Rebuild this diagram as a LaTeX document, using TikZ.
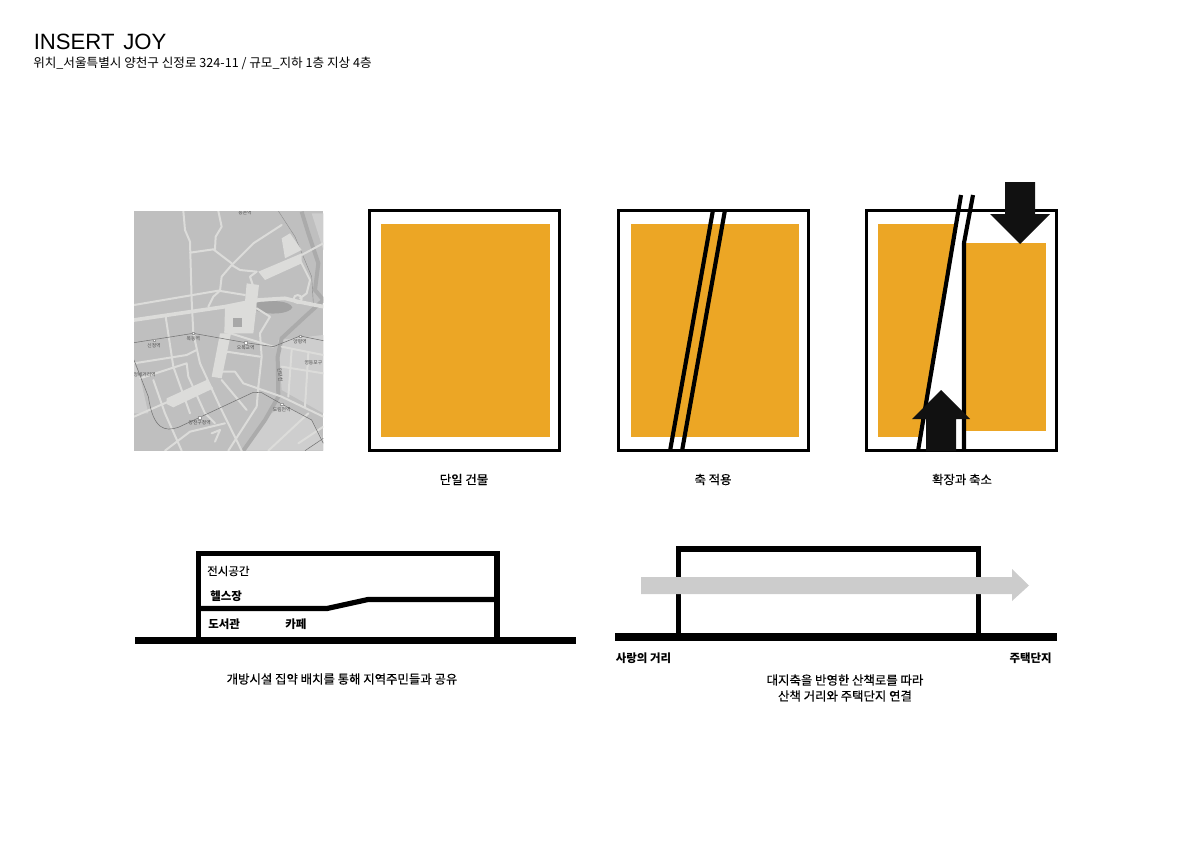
\documentclass[tikz,border=0pt]{standalone}
\usepackage{fontspec}
\setmainfont{Noto Sans CJK KR}
\newfontfamily\latinfont{Liberation Sans}
\newfontfamily\capfont[FakeBold=0.35]{Noto Sans CJK KR}
\usetikzlibrary{positioning}
\definecolor{massorange}{HTML}{ECA625}
\definecolor{mapbase}{HTML}{BFBFBF}
\definecolor{maproad}{HTML}{DCDCDA}
\definecolor{mapriver}{HTML}{ABABAB}
\definecolor{mapcity}{HTML}{CECECE}
\definecolor{walkway}{HTML}{CCCCCC}
\definecolor{arrowdark}{HTML}{111111}
\tikzset{
    x=0.75pt, y=-0.75pt,
    site/.style={draw=black, line width=2.6pt},
    mass/.style={fill=massorange},
    axisline/.style={draw=black, line width=3.1pt},
    section/.style={draw=black, line width=3.9pt, line join=miter},
    ground/.style={fill=black},
    caption/.style={font=\capfont\fontsize{9.3pt}{11.9pt}\selectfont, inner sep=0pt, align=center},
    room/.style={font=\fontsize{8.6pt}{11pt}\selectfont, inner sep=0pt, anchor=west},
    road/.style={draw=maproad, line width=1.5pt, line cap=round, line join=round},
    wideroad/.style={draw=maproad, line width=2.8pt, line cap=round, line join=round},
    rail/.style={draw=black!55, line width=0.4pt},
    station/.style={font=\fontsize{3.6pt}{4pt}\selectfont, text=black!70, inner sep=0pt},
    halt/.style={fill=white, draw=black!40, line width=0.2pt, inner sep=0pt, minimum size=1.6pt},
}
\begin{document}
\begin{tikzpicture}
    \useasboundingbox (0,0) rectangle (1192,842);

    % Title
    \node [anchor=base west, inner sep=0pt, font=\latinfont\fontsize{16.6pt}{20pt}\selectfont] (title) at (33.5,50) {INSERT\hspace{2pt} JOY};
    \node [anchor=base west, inner sep=0pt, font=\fontsize{9.45pt}{11pt}\selectfont] (subtitle) at (33,67.5) {위치\_서울특별시 양천구 신정로 324-11 / 규모\_지하 1층 지상 4층};

    % Map
    \begin{scope}[shift={(125,200)}, x=0.25pt, y=-0.25pt]
        \clip (27,33) rectangle (595,752);
        \fill [mapbase] (27,33) rectangle (595,752);
        % city blocks east of the river
        \fill [mapcity] (460,420) -- (595,405) -- (595,640) -- (470,570) -- cycle;
        \fill [mapcity] (360,752) -- (440,640) -- (480,615) -- (560,660) -- (595,720) -- (595,752) -- cycle;
        \fill [mapcity] (27,490) -- (45,530) -- (70,640) -- (27,640) -- cycle;
        \fill [mapcity] (560,40) -- (595,40) -- (595,150) -- cycle;
        % river
        \draw [mapriver, line width=3pt] (355,752) -- (420,660) -- (460,590) -- (458,470) -- (470,415) -- (540,350) -- (595,300);
        \draw [mapriver, line width=3pt] (530,35) -- (550,100) -- (580,190) -- (570,270) -- (595,300);
        \draw [black!45, line width=0.3pt] (460,33) -- (510,110) -- (560,230) -- (565,310);
        % wide blocks
        \fill [maproad] (400,215) -- (530,160) -- (530,190) -- (420,240) -- cycle;
        \fill [maproad] (470,115) -- (495,100) -- (530,150) -- (480,175) -- cycle;
        \fill [maproad] (365,250) -- (402,255) -- (385,400) -- (298,400) -- (300,320) -- (360,305) -- cycle;
        \fill [mapbase!88!black] (323,355) rectangle (350,380);
        \fill [maproad] (285,400) -- (318,400) -- (290,535) -- (260,530) -- cycle;
        \fill [maproad] (125,595) -- (245,540) -- (265,565) -- (145,622) -- (125,612) -- cycle;
        \fill [mapbase!85!black] (395,308) .. controls (440,298) and (495,303) .. (502,322) .. controls (495,342) and (430,347) .. (395,332) -- cycle;
        % main roads
        \draw [wideroad] (27,360) -- (300,320) -- (400,300) -- (480,295) -- (520,305) -- (595,320);
        \foreach \roadpath in {
            {(175,33) -- (180,90) -- (195,125) -- (200,300) -- (205,400) -- (225,490) -- (285,620) -- (350,752)},
            {(27,315) -- (280,272) -- (360,285)},
            {(285,272) -- (290,230) -- (320,195) -- (385,130) -- (470,75)},
            {(195,158) -- (265,148) -- (320,190)},
            {(280,33) -- (290,80) -- (272,110) -- (270,148)},
            {(250,320) -- (265,290) -- (285,272)},
            {(320,195) -- (345,210) -- (395,215)},
            {(385,260) -- (375,230) -- (395,215)},
            {(530,165) -- (595,130)},
            {(520,170) -- (555,240) -- (545,280) -- (525,295)},
            {(122,350) -- (145,500) -- (195,640)},
            {(27,490) -- (185,465) -- (215,450)},
            {(45,535) -- (185,490) -- (190,530) -- (240,640) -- (270,670)},
            {(85,540) -- (120,640) -- (170,752)},
            {(27,650) -- (130,605)},
            {(290,540) -- (365,630)},
            {(290,515) -- (330,515) -- (355,550) -- (470,590) -- (595,650)},
            {(400,560) -- (395,620) -- (310,752)},
            {(405,400) -- (435,350) -- (395,325)},
            {(405,400) -- (410,470) -- (400,560)},
            {(305,455) -- (405,470)},
            {(300,395) -- (445,440)},
            {(120,752) -- (195,695) -- (300,670)},
            {(260,700) -- (285,690) -- (270,725)},
            {(470,440) -- (595,465)},
            {(500,450) -- (490,590)},
            {(550,460) -- (540,620)},
            {(470,500) -- (595,520)},
            {(430,752) -- (550,640)},
            {(520,730) -- (595,680)}%
        }{
            \draw [road] \roadpath;
        }
        \draw [road] (518,297) circle (12);
        % subway lines
        \draw [rail] (27,428) -- (205,400) -- (362,428) -- (445,440) -- (525,408) -- (595,422);
        \draw [rail] (27,480) -- (70,590) .. controls (85,690) and (120,695) .. (160,682) -- (385,577) -- (410,578) -- (470,612) -- (560,660) -- (595,730);
        \draw [rail] (595,715) -- (540,752);
        % stations
        \node [halt] (hsinjeong) at (87,420) {};
        \node [halt] (hmokdong) at (205,400) {};
        \node [halt] (homok) at (362,428) {};
        \node [halt] (hyangpyeong) at (525,408) {};
        \node [halt] (hyangcheon) at (224,653) {};
        \node [halt] (hdorim) at (470,612) {};
        \node [station] (sdeung) at (360,37) {등촌역};
        \node [station] (ssinjeong) at (87,437) {신정역};
        \node [station] (smokdong) at (205,417) {목동역};
        \node [station] (somok) at (362,444) {오목교역};
        \node [station] (syangpyeong) at (525,425) {양평역};
        \node [station] (snegeori) at (52,525) {신정네거리역};
        \node [station] (syangcheon) at (224,669) {양천구청역};
        \node [station] (sdorim) at (470,629) {도림천역};
        \node [station] (sdist) at (565,488) {영등포구};
        \node [station, rotate=-85] (sriver) at (466,525) {안양천};
    \end{scope}

    % Single building
    \fill [mass] (381,224) rectangle (550,437);
    \draw [site] (369.5,210.5) rectangle (559.5,450.5);
    \node [caption] (capone) at (464,479.5) {단일 건물};

    % Axis applied
    \fill [mass] (631,224) rectangle (799,437);
    \draw [site] (618.5,210.5) rectangle (808.5,450.5);
    \draw [axisline] (713,210) -- (670,451);
    \draw [axisline] (725,210) -- (682,451);
    \node [caption] (captwo) at (713,479.5) {축 적용};

    % Expansion and reduction
    \fill [mass] (878,224) rectangle (960,437);
    \fill [mass] (966,243) rectangle (1046,431);
    \fill [white] (961,195) -- (973,195) -- (964,243) -- (964,450) -- (918,450) -- cycle;
    \draw [site] (866.5,210.5) rectangle (1056.5,450.5);
    \draw [axisline] (961,195) -- (918,451);
    \draw [axisline] (973,195) -- (964,243) -- (964,451);
    \fill [arrowdark] (926,451) -- (926,419) -- (912,419) -- (941,390) -- (970,419) -- (956,419) -- (956,451) -- cycle;
    \fill [arrowdark] (1005,182) -- (1035,182) -- (1035,214) -- (1050,214) -- (1020,244) -- (990,214) -- (1005,214) -- cycle;
    \node [caption] (capthree) at (962,479.5) {확장과 축소};

    % Section with shared facilities
    \draw [section] (198.5,637) -- (198.5,553.5) -- (497,553.5) -- (497,637);
    \draw [section] (198.5,608.5) -- (327,608.5) -- (368,599.5) -- (497,599.5);
    \fill [ground] (135,637) rectangle (576,644);
    \node [room] (gallery) at (207,571) {\capfont 전시공간};
    \node [room] (gym) at (210,596) {\bfseries 헬스장};
    \node [room] (library) at (208,624) {\bfseries 도서관};
    \node [room] (cafe) at (285,624) {\bfseries 카페};
    \node [caption] (capfour) at (342,679) {개방시설 집약 배치를 통해 지역주민들과 공유};

    % Section with walkway
    \draw [section] (678.5,634) -- (678.5,549) -- (978.5,549) -- (978.5,634);
    \fill [ground] (615,633) rectangle (1057,641);
    \fill [walkway] (641,577) -- (1012,577) -- (1012,569) -- (1029,585.5) -- (1012,601) -- (1012,594) -- (641,594) -- cycle;
    \node [room] (street) at (615.5,658) {\bfseries 사랑의 거리};
    \node [room, anchor=east] (housing) at (1052,658) {\bfseries 주택단지};
    \node [caption] (capfive) at (845,688) {대지축을 반영한 산책로를 따라\\산책 거리와 주택단지 연결};
\end{tikzpicture}
\end{document}
